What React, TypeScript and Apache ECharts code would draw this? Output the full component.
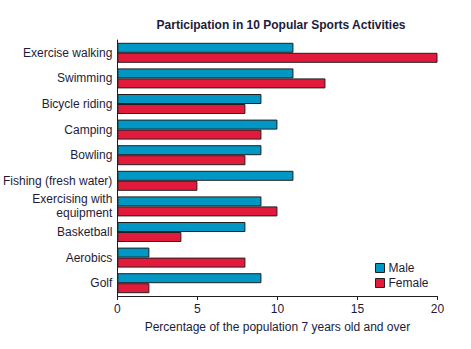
import React, { useEffect, useRef } from "react";
import * as echarts from "echarts";

const categories = [
  "Exercise walking",
  "Swimming",
  "Bicycle riding",
  "Camping",
  "Bowling",
  "Fishing (fresh water)",
  "Exercising with\nequipment",
  "Basketball",
  "Aerobics",
  "Golf",
];
const maleValues = [11, 11, 9, 10, 9, 11, 9, 8, 2, 9];
const femaleValues = [20, 13, 8, 9, 8, 5, 10, 4, 8, 2];
const xTicks = [0, 5, 10, 15, 20];

const FONT = "Liberation Sans, Arial, Helvetica, sans-serif";
const TEXT = "#1c1c3a";

export default function App() {
  const ref = useRef<HTMLDivElement>(null);
  useEffect(() => {
    document.body.style.margin = "0";
    const chart = echarts.init(ref.current!, null, { renderer: "svg" });
    chart.setOption({
      animation: false,
      backgroundColor: "#ffffff",
      textStyle: { fontFamily: FONT },
      title: {
        text: "Participation in 10 Popular Sports Activities",
        left: 276,
        textAlign: "center",
        top: 14,
        textStyle: { fontFamily: FONT, fontSize: 12, fontWeight: "bold", color: TEXT },
      },
      legend: {
        orient: "vertical",
        left: 375,
        top: 261,
        padding: 0,
        itemWidth: 9,
        itemHeight: 9,
        itemGap: 1,
        icon: "rect",
        itemStyle: { borderColor: "#231f20", borderWidth: 1 },
        textStyle: { fontFamily: FONT, fontSize: 12, color: TEXT, lineHeight: 14, padding: [0, 0, 0, -1] },
        data: ["Male", "Female"],
      },
      grid: { left: 115.5, right: 33.5, top: 40, height: 256 },
      xAxis: {
        type: "value",
        min: xTicks[0],
        max: xTicks[xTicks.length - 1],
        interval: 5,
        splitLine: { show: false },
        axisLine: { show: true, lineStyle: { color: "#231f20", width: 1 } },
        axisTick: { show: true, length: 4, lineStyle: { color: "#231f20" } },
        axisLabel: { fontFamily: FONT, fontSize: 12, color: TEXT, margin: 7 },
        name: "Percentage of the population 7 years old and over",
        nameLocation: "middle",
        nameGap: 25,
        nameTextStyle: { fontFamily: FONT, fontSize: 12, color: TEXT },
      },
      yAxis: {
        type: "category",
        inverse: true,
        data: categories,
        axisLine: { show: true, lineStyle: { color: "#231f20", width: 1 } },
        axisTick: { show: false },
        axisLabel: { fontFamily: FONT, fontSize: 12, color: TEXT, margin: 5, lineHeight: 14 },
      },
      series: [
        {
          name: "Male",
          type: "bar",
          data: maleValues,
          barWidth: 10,
          barGap: "0%",
          itemStyle: { color: "#0097c4", borderColor: "#231f20", borderWidth: 1 },
        },
        {
          name: "Female",
          type: "bar",
          data: femaleValues,
          barWidth: 10,
          barGap: "0%",
          itemStyle: { color: "#e21b3c", borderColor: "#231f20", borderWidth: 1 },
        },
      ],
    });
    return () => chart.dispose();
  }, []);
  return <div ref={ref} style={{ width: 471, height: 349 }} />;
}
